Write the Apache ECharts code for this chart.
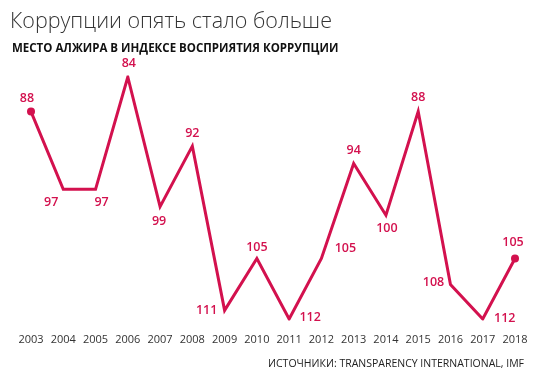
<!DOCTYPE html>
<html>
<head>
<meta charset="utf-8">
<script src="https://cdn.jsdelivr.net/npm/echarts@6/dist/echarts.min.js"></script>
<style>
html,body{margin:0;padding:0;background:#fff;}
#chart{width:541px;height:380px;}
</style>
</head>
<body>
<div id="chart"></div>
<script>
const titleText = 'Коррупции опять стало больше';
const subtitleText = 'МЕСТО АЛЖИРА В ИНДЕКСЕ ВОСПРИЯТИЯ КОРРУПЦИИ';
const sourceText = 'ИСТОЧНИКИ: TRANSPARENCY INTERNATIONAL, IMF';
const years = ['2003','2004','2005','2006','2007','2008','2009','2010','2011','2012','2013','2014','2015','2016','2017','2018'];
const ranks = [88, 97, 97, 84, 99, 92, 111, 105, 112, 105, 94, 100, 88, 108, 112, 105];

// label placement (style only), offsets relative to each point
const labelOffsets = [[-4,-13],[-12,13],[6,13],[1,-14],[-1,15],[0,-13],[-18,0],[0,-11],[21,-2],[24,-10],[0,-13],[1,13],[0,-14],[-17,-2],[22,-1],[-2,-16]];

const RED = '#d3114e';
const chart = echarts.init(document.getElementById('chart'), null, {renderer: 'canvas'});

const seriesData = ranks.map((v, i) => ({
  value: v,
  symbolSize: (i === 0 || i === ranks.length - 1) ? 8 : 0,
  label: {offset: labelOffsets[i]}
}));

chart.setOption({
  animation: false,
  backgroundColor: '#ffffff',
  title: [
    {text: titleText, left: 5, top: 6,
     textStyle: {fontFamily: 'Open Sans', fontWeight: 300, fontSize: 21.5, color: '#333'}},
    {text: subtitleText, left: 7, top: 38,
     textStyle: {fontFamily: 'Open Sans', fontWeight: 'bold', fontSize: 11.5, color: '#111'}},
    {text: sourceText, right: 12, top: 354,
     textStyle: {fontFamily: 'Open Sans', fontWeight: 'normal', fontSize: 10.5, color: '#222'}}
  ],
  grid: {left: 31, right: 26, top: 77, bottom: 61, containLabel: false},
  xAxis: {
    type: 'category',
    data: years,
    boundaryGap: false,
    axisLine: {show: false},
    axisTick: {show: false},
    axisLabel: {color: '#333', fontFamily: 'Open Sans', fontSize: 11, margin: 15, interval: 0}
  },
  yAxis: {
    type: 'value',
    inverse: true,
    min: 84,
    max: 112,
    show: false,
    splitLine: {show: false}
  },
  series: [{
    type: 'line',
    data: seriesData,
    symbol: 'circle',
    showSymbol: true,
    color: RED,
    lineStyle: {color: RED, width: 3, join: 'miter'},
    itemStyle: {color: RED},
    label: {
      show: true,
      position: 'inside',
      color: RED,
      fontFamily: 'Open Sans',
      fontWeight: 600,
      fontSize: 12.5
    }
  }]
});
</script>
</body>
</html>
